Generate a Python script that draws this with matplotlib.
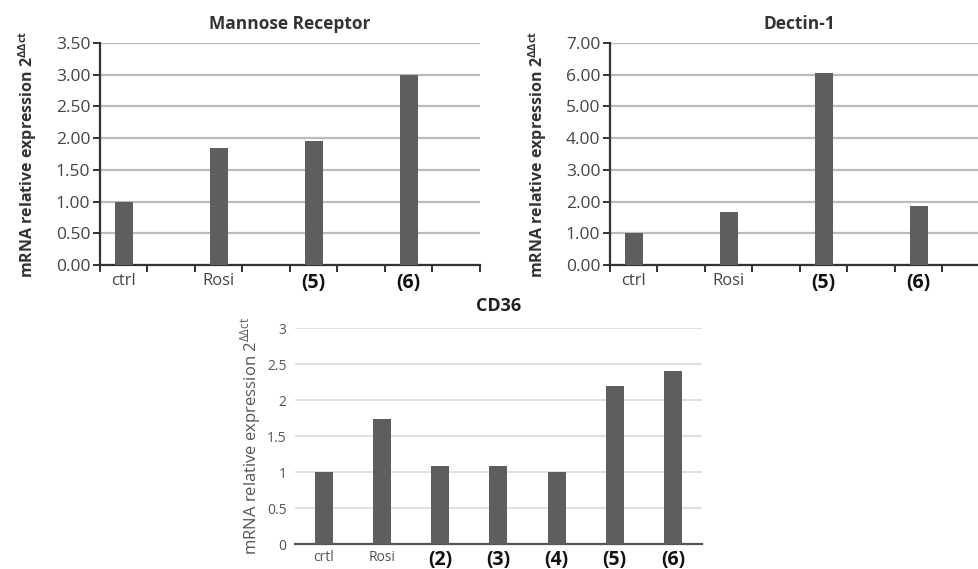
import numpy as np
import matplotlib
matplotlib.use("Agg")
import matplotlib.pyplot as plt

plt.rcParams['font.family'] = ['Open Sans', 'DejaVu Sans']
plt.rcParams['mathtext.fontset'] = 'custom'
plt.rcParams['mathtext.rm'] = 'Open Sans'

# data
top_labels = ['ctrl', '', 'Rosi', '', '(5)', '', '(6)', '']
mannose = [1.00, 0, 1.84, 0, 1.96, 0, 3.00, 0]
dectin = [1.00, 0, 1.67, 0, 6.05, 0, 1.87, 0]
cd36_labels = ['crtl', 'Rosi', '(2)', '(3)', '(4)', '(5)', '(6)']
cd36 = [1.00, 1.74, 1.09, 1.08, 1.00, 2.19, 2.40]

bar_col = '#5e5e5e'
ylab = r'mRNA relative expression 2$^{\mathregular{\Delta\Delta ct}}$'

fig = plt.figure(figsize=(9.79, 5.69), dpi=100)


def top_chart(ax, vals, title, ymax, step):
    x = np.arange(len(vals))
    ax.bar(x, vals, width=0.38, color=bar_col, zorder=3)
    ax.set_xlim(-0.5, len(vals) - 0.5)
    ax.set_ylim(0, ymax)
    ax.set_yticks(np.arange(0, ymax + 0.001, step))
    ax.set_yticklabels(['%.2f' % v for v in np.arange(0, ymax + 0.001, step)])
    ax.yaxis.grid(True, color='#bcbcbc', lw=1.6, zorder=0)
    ax.set_xticks(x)
    ax.set_xticklabels(top_labels)
    ax.set_xticks(np.arange(-0.5, len(vals)), minor=True)
    ax.tick_params(axis='x', which='major', length=0, pad=6)
    ax.tick_params(axis='x', which='minor', length=5, width=1.4, color='#333333')
    ax.tick_params(axis='y', length=5, width=1.4, color='#333333', pad=2,
                   labelsize=12.5, labelcolor='#444444')
    for lbl in ax.get_xticklabels():
        if lbl.get_text().startswith('('):
            lbl.set_fontsize(14)
            lbl.set_fontweight('bold')
            lbl.set_color('#111111')
        else:
            lbl.set_fontsize(12)
            lbl.set_color('#444444')
    for s in ['top', 'right']:
        ax.spines[s].set_visible(False)
    for s in ['left', 'bottom']:
        ax.spines[s].set_color('#333333')
        ax.spines[s].set_linewidth(1.6)
    ax.set_title(title, fontsize=12.5, fontweight='bold', color='#333333', pad=10)
    ax.set_ylabel(ylab, fontsize=11.5, fontweight='bold', color='#333333', labelpad=12)


ax1 = fig.add_axes([0.1021, 0.5343, 0.388, 0.390])
top_chart(ax1, mannose, 'Mannose Receptor', 3.5, 0.5)
ax2 = fig.add_axes([0.623, 0.5343, 0.388, 0.390])
top_chart(ax2, dectin, 'Dectin-1', 7.0, 1.0)

ax3 = fig.add_axes([0.3013, 0.0439, 0.4157, 0.3796])
x3 = np.arange(len(cd36))
ax3.bar(x3, cd36, width=0.31, color=bar_col, zorder=3)
ax3.set_xlim(-0.5, len(cd36) - 0.5)
ax3.set_ylim(0, 3)
ax3.set_yticks([0, 0.5, 1, 1.5, 2, 2.5, 3])
ax3.set_yticklabels(['0', '0.5', '1', '1.5', '2', '2.5', '3'])
ax3.yaxis.grid(True, color='#dcdcdc', lw=1.2, zorder=0)
ax3.set_xticks(x3)
ax3.set_xticklabels(cd36_labels)
ax3.tick_params(axis='x', length=0, pad=4)
ax3.tick_params(axis='y', length=0, pad=6, labelsize=10, labelcolor='#555555')
for lbl in ax3.get_xticklabels():
    if lbl.get_text().startswith('('):
        lbl.set_fontsize(14)
        lbl.set_fontweight('bold')
        lbl.set_color('#111111')
    else:
        lbl.set_fontsize(10)
        lbl.set_color('#555555')
for s in ['top', 'right', 'left']:
    ax3.spines[s].set_visible(False)
ax3.spines['bottom'].set_color('#555555')
ax3.spines['bottom'].set_linewidth(1.6)
ax3.set_title('CD36', fontsize=13, fontweight='bold', color='#222222', pad=12)
ax3.set_ylabel(ylab, fontsize=12, color='#555555', labelpad=3)

fig.savefig('out.png', dpi=100)
